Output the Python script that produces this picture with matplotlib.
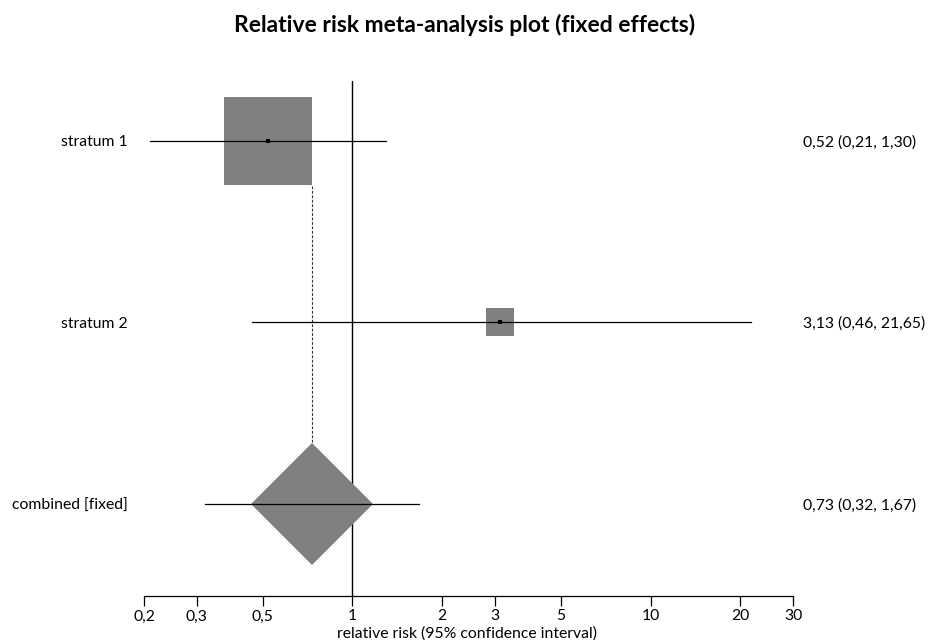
import matplotlib.pyplot as plt
import numpy as np

plt.rcParams['font.family'] = ['Lato', 'DejaVu Sans']

labels = ['stratum 1', 'stratum 2', 'combined [fixed]']
rr = [0.52, 3.13, 0.73]
lower = [0.21, 0.46, 0.32]
upper = [1.30, 21.65, 1.67]
box_sizes = [63.4, 20.2]   # marker sizes (pt) ~ study weights
ticks = [0.2, 0.3, 0.5, 1, 2, 3, 5, 10, 20, 30]
tick_labels = ['0,2', '0,3', '0,5', '1', '2', '3', '5', '10', '20', '30']

def fmt(v):
    return ('%.2f' % v).replace('.', ',')

ypos = [3, 2, 1]
fs = 11.3

fig = plt.figure(figsize=(9.29, 6.40), dpi=100)
ax = fig.add_axes([144/929, 1-596/640, (793-144)/929, (596-81)/640])
ax.set_xscale('log')
ax.set_xlim(0.2, 30)
ax.set_ylim(1 - 92/181.5, 3 + 60/181.5)

grey = '#808080'

# no-effect line
ax.axvline(1, color='black', lw=1.0, zorder=1)

# studies
for i in range(2):
    ax.plot([lower[i], upper[i]], [ypos[i], ypos[i]], color='black', lw=0.9, zorder=3)
    ax.plot(rr[i], ypos[i], marker='s', ms=box_sizes[i], mew=0, color=grey, zorder=2)
    ax.plot(rr[i], ypos[i], marker='s', ms=2.2, mew=0, color='black', zorder=4)

# combined
ax.plot([lower[2], upper[2]], [ypos[2], ypos[2]], color='black', lw=0.9, zorder=3)
ax.plot(rr[2], ypos[2], marker='D', ms=62, mew=0, color=grey, zorder=2)

# dashed line at pooled estimate
ax.plot([rr[2], rr[2]], [3 - 45/181.5, 1 + 59/181.5], color='#333333', lw=0.8,
        linestyle=(0, (2.5, 1.5)), zorder=1)

# labels
for i in range(3):
    ax.text(-0.025, ypos[i], labels[i], transform=ax.get_yaxis_transform(),
            ha='right', va='center_baseline', fontsize=fs)
    ax.text(1.0 + (803 - 793)/649, ypos[i],
            '%s (%s, %s)' % (fmt(rr[i]), fmt(lower[i]), fmt(upper[i])),
            transform=ax.get_yaxis_transform(), ha='left', va='center_baseline', fontsize=fs)

for s in ['top', 'right', 'left']:
    ax.spines[s].set_visible(False)
ax.spines['bottom'].set_linewidth(0.9)
ax.set_yticks([])
ax.set_xticks(ticks)
ax.set_xticklabels(tick_labels, fontsize=fs)
ax.xaxis.set_minor_locator(plt.NullLocator())
ax.tick_params(axis='x', length=7.2, width=0.9, pad=2.5)

fig.text(ax.get_position().x0 + ax.get_position().width * np.log10(1/0.2) / np.log10(30/0.2) + (467 - 352) / 929,
         1 - 626/640, 'relative risk (95% confidence interval)',
         fontsize=fs, ha='center', va='top')

fig.suptitle('Relative risk meta-analysis plot (fixed effects)', fontsize=16.5,
             fontweight='bold', y=1 - 25/640, va='center')

fig.savefig('out.png', dpi=100)
